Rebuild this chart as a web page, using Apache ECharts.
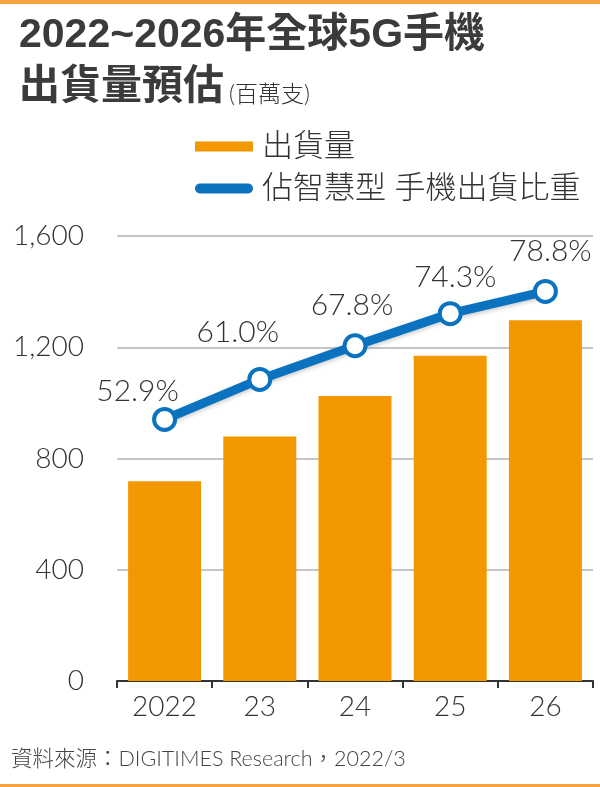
<!DOCTYPE html>
<html>
<head>
<meta charset="utf-8">
<title>2022~2026年全球5G手機出貨量預估</title>
<script src="https://cdn.jsdelivr.net/npm/echarts@6/dist/echarts.min.js"></script>
<style>
    html, body { margin: 0; padding: 0; background: #fff; }
    #chart { width: 600px; height: 787px; }
</style>
</head>
<body>
<div id="chart"></div>
<script>
// 資料
var years = ['2022', '23', '24', '25', '26'];
var shipments = [718, 879, 1025, 1169, 1297];
var shareOfSmartphones = [52.9, 61.0, 67.8, 74.3, 78.8];
var yTicks = [0, 400, 800, 1200, 1600];

var barName = '出貨量';
var lineName = '佔智慧型 手機出貨比重';

var ORANGE = '#f39800';
var BLUE = '#0a72bf';
var TEXT = '#333';
var LATIN = "'Liberation Sans', 'Noto Sans CJK TC', sans-serif";
var LIGHT = "Lato, 'Noto Sans CJK TC', sans-serif";

// percent label nudges (label centred on point, then shifted)
var labelShift = [[-27, -28], [-22, -47], [-3, -40], [5, -36], [5, -40]];

var chart = echarts.init(document.getElementById('chart'));

chart.setOption({
    animation: false,
    title: {
        left: 14,
        top: 5,
        text: '2022~2026年全球5G手機\n出貨量預估{s|(百萬支)}',
        textStyle: {
            fontFamily: LATIN,
            fontSize: 41,
            fontWeight: 'bold',
            color: '#3b3b3b',
            lineHeight: 52,
            rich: {
                s: {
                    fontFamily: LIGHT,
                    fontSize: 23,
                    fontWeight: 300,
                    color: TEXT,
                    lineHeight: 24,
                    padding: [14, 0, 0, 5]
                }
            }
        }
    },
    legend: {
        orient: 'vertical',
        left: 190,
        top: 126,
        itemWidth: 58,
        itemHeight: 10,
        itemGap: 11,
        textStyle: {
            fontFamily: LIGHT,
            fontSize: 31,
            fontWeight: 300,
            color: TEXT,
            padding: [0, 0, 0, 4]
        },
        data: [
            { name: barName, icon: 'rect', itemStyle: { color: ORANGE } },
            {
                name: lineName,
                icon: 'path://M5,0 L53,0 A5,5 0 0 1 53,10 L5,10 A5,5 0 0 1 5,0 Z',
                itemStyle: { color: BLUE, borderWidth: 0 }
            }
        ]
    },
    grid: {
        left: 117,
        right: 7,
        top: 236,
        bottom: 106,
        containLabel: false
    },
    xAxis: {
        type: 'category',
        data: years,
        axisLine: { lineStyle: { color: '#333', width: 2 } },
        axisTick: { show: true, length: 7, lineStyle: { color: '#333', width: 2 } },
        axisLabel: {
            margin: 12,
            fontFamily: LIGHT,
            fontSize: 28,
            fontWeight: 300,
            color: TEXT
        }
    },
    yAxis: [{
        type: 'value',
        min: yTicks[0],
        max: yTicks[yTicks.length - 1],
        interval: yTicks[1] - yTicks[0],
        axisLine: { show: false },
        axisTick: { show: false },
        splitLine: { lineStyle: { color: '#b3b3b3', width: 1.5 } },
        axisLabel: {
            margin: 33,
            fontFamily: LIGHT,
            fontSize: 28,
            fontWeight: 300,
            color: TEXT,
            formatter: function (v) { return v.toLocaleString('en-US'); }
        }
    }, {
        // hidden scale for the share line
        type: 'value',
        min: 0,
        max: 90,
        show: false,
        splitLine: { show: false }
    }],
    series: [{
        name: barName,
        type: 'bar',
        data: shipments,
        barWidth: 73,
        itemStyle: { color: ORANGE }
    }, {
        name: lineName,
        type: 'line',
        yAxisIndex: 1,
        data: shareOfSmartphones.map(function (v, i) {
            return {
                value: v,
                label: { offset: labelShift[i] }
            };
        }),
        symbol: 'circle',
        symbolSize: 21,
        lineStyle: {
            color: BLUE,
            width: 9,
            shadowColor: 'rgba(0,0,0,0.2)',
            shadowBlur: 4,
            shadowOffsetY: 2
        },
        itemStyle: { color: '#fff', borderColor: BLUE, borderWidth: 4 },
        label: {
            show: true,
            position: 'inside',
            formatter: function (p) { return p.value.toFixed(1) + '%'; },
            fontFamily: LIGHT,
            fontSize: 30,
            fontWeight: 300,
            color: TEXT
        },
        z: 5
    }],
    graphic: [
        { type: 'rect', left: 0, top: 0, shape: { width: 600, height: 4 }, style: { fill: '#f6a13f' } },
        { type: 'rect', left: 0, top: 784, shape: { width: 600, height: 3 }, style: { fill: '#f6a13f' } },
        {
            type: 'text',
            left: 11,
            top: 748,
            style: {
                text: '資料來源：DIGITIMES Research，2022/3',
                fontFamily: LIGHT,
                fontSize: 21.5,
                fontWeight: 300,
                fill: '#444'
            }
        }
    ]
});
</script>
</body>
</html>
